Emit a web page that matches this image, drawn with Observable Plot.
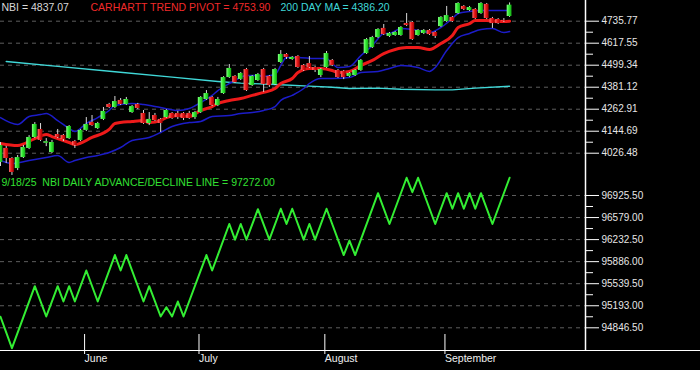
<!DOCTYPE html>
<html><head><meta charset="utf-8">
<script src="https://cdn.jsdelivr.net/npm/d3@7"></script>
<script src="https://cdn.jsdelivr.net/npm/@observablehq/plot@0.6"></script>
<style>
html,body{margin:0;padding:0;background:#000;}
#chart{position:relative;width:700px;height:370px;background:#000;overflow:hidden;}
#chart svg{position:absolute;left:0;overflow:visible;}
#baseline{position:absolute;left:0;top:350px;width:700px;height:1px;background:#fff;}
</style></head><body><div id="chart"><div id="baseline"></div></div>
<script>
// ---- NBI daily candles (trading days 0..89, May 12 – Sep 18, 2025)
const open  = [3977,4052,3998,3944,4003,4052,4111,4154,4080,4030,4127,4122,4105,4089,4095,4149,4192,4159,4208,4288,4272,4310,4288,4245,4288,4240,4186,4229,4208,4218,4240,4240,4240,4240,4218,4245,4315,4326,4283,4347,4433,4439,4423,4476,4390,4417,4476,4439,4396,4514,4557,4530,4546,4498,4508,4487,4444,4487,4525,4471,4466,4439,4444,4471,4562,4594,4648,4697,4654,4659,4659,4723,4729,4659,4670,4686,4675,4707,4734,4756,4777,4815,4793,4799,4777,4826,4750,4745,4740,4761];
const high  = [4084,4063,4003,4014,4068,4121,4191,4186,4105,4095,4154,4127,4175,4095,4154,4218,4229,4192,4272,4294,4331,4320,4326,4283,4294,4256,4245,4240,4213,4261,4245,4251,4245,4251,4251,4331,4363,4331,4326,4438,4503,4444,4460,4482,4444,4455,4482,4444,4482,4578,4562,4546,4551,4503,4546,4492,4482,4573,4530,4476,4471,4460,4476,4530,4643,4654,4696,4718,4675,4680,4707,4777,4734,4691,4691,4691,4680,4761,4815,4761,4836,4820,4815,4804,4836,4831,4756,4750,4750,4834];
const low   = [3955,3971,3907,3933,3998,4046,4105,4089,4062,4025,4105,4089,4100,4052,4089,4143,4170,4154,4202,4266,4267,4283,4283,4240,4261,4181,4175,4197,4138,4213,4208,4208,4202,4208,4208,4240,4310,4277,4277,4342,4428,4401,4417,4358,4385,4412,4353,4380,4390,4508,4530,4525,4482,4466,4482,4460,4433,4482,4492,4428,4422,4433,4439,4466,4557,4589,4643,4659,4648,4654,4654,4707,4632,4654,4664,4659,4643,4702,4729,4729,4772,4793,4788,4745,4772,4745,4697,4718,4729,4756];
const close = [4068,3998,3923,4003,4057,4111,4181,4095,4088,4084,4111,4100,4170,4068,4149,4181,4175,4186,4251,4272,4304,4288,4315,4277,4267,4186,4208,4202,4186,4256,4213,4218,4213,4213,4245,4326,4347,4283,4315,4433,4482,4406,4455,4363,4439,4449,4396,4390,4476,4557,4541,4541,4487,4471,4487,4471,4476,4562,4498,4433,4433,4455,4471,4525,4637,4648,4691,4664,4670,4675,4702,4713,4637,4686,4686,4664,4654,4756,4766,4734,4831,4799,4809,4750,4831,4750,4723,4723,4736,4822];

// ---- Carhartt trend pivot
const pivotDay   = [0,3,6,8,9,12,13,16,19,20,23,25,26,28,29,31,33,35,37,38,40,42,44,46,48,49,51,52,54,56,58,59,61,63,65,67,69,71,73,75,77,79,80,82,83,85,87,89];
const pivotValue = [4079,4068,4105,4127,4116,4084,4073,4111,4154,4186,4197,4202,4191,4202,4218,4229,4224,4256,4277,4294,4310,4320,4337,4353,4374,4401,4428,4460,4482,4482,4471,4460,4466,4498,4525,4562,4584,4594,4594,4584,4616,4659,4702,4723,4739,4739,4734,4736];

// ---- upper / lower band
const upperDay   = [0,3,5,7,8,10,12,13,15,17,19,20,23,25,28,31,33,35,37,38,40,41,43,45,46,48,49,50,52,55,57,58,59,61,63,65,66,67,68,70,72,73,75,77,79,80,82,84,87,89];
const upperValue = [4218,4181,4224,4234,4240,4202,4159,4143,4186,4218,4256,4283,4294,4288,4272,4256,4267,4299,4337,4363,4401,4417,4444,4444,4439,4449,4498,4541,4541,4535,4535,4508,4487,4492,4551,4605,4642,4670,4670,4697,4691,4686,4675,4702,4750,4777,4788,4793,4793,4793];
const lowerDay   = [0,2,5,8,10,12,13,15,17,19,21,23,26,28,30,33,35,37,40,42,44,46,48,49,51,53,54,56,58,61,63,66,68,70,73,75,76,78,80,82,84,86,88,89];
const lowerValue = [3987,3971,3987,4003,4014,3977,3987,4003,4014,4030,4057,4095,4111,4138,4170,4191,4197,4224,4229,4240,4245,4256,4277,4310,4337,4374,4401,4428,4428,4433,4460,4466,4482,4498,4487,4466,4487,4578,4648,4670,4691,4696,4675,4680];

// ---- 200 day moving average
const maDay   = [1,10,20,30,38,42,48,54,58,61,66,70,76,79,83,89];
const maValue = [4519,4493,4464,4435,4412,4403,4396,4387,4381,4374,4376,4370,4367,4367,4376,4386];

// ---- NBI daily advance/decline line (turning points)
const adDay   = [0,2,6,8,10,11,12,13,15,17,20,21,22,25,26,28,29,30,31,32,36,37,40,41,42,43,45,47,49,50,51,53,54,55,57,60,61,62,66,68,71,72,73,76,78,79,80,81,82,83,84,86,89];
const adValue = [95020,94526,95500,95024,95500,95260,95500,95260,95747,95260,95990,95747,95990,95260,95500,95024,95170,95024,95260,95024,95990,95747,96478,96231,96478,96231,96710,96231,96717,96478,96717,96231,96478,96231,96717,95990,96218,95990,96962,96478,97204,96977,97204,96478,96962,96717,96962,96717,96962,96717,96962,96478,97204];

// ---- axes
const monthDay  = [14,34,56,77];
const monthName = ["June","July","August","September"];
const priceTicks = [4026.48,4144.69,4262.91,4381.12,4499.34,4617.55,4735.77];
const adTicks    = [94846.50,95193.00,95539.50,95886.00,96232.50,96579.00,96925.50];
const topTitles  = ["NBI = 4837.07","CARHARTT TREND PIVOT = 4753.90","200 DAY MA = 4386.20"];
const adTitle    = "9/18/25  NBI DAILY ADVANCE/DECLINE LINE = 97272.00";

// ---------------------------------------------------------------
const FONT = '"Liberation Sans", Arial, sans-serif';
const xDomain = [0, 102.27];
const pairs = (d, v) => d.map((day, i) => ({day, value: v[i]}));
const candles = open.map((o, i) => ({day: i, open: o, high: high[i], low: low[i], close: close[i]}));
const mid = t => d3.pairs(t).map(([a, b]) => (a + b) / 2);
const style = {background: "transparent", color: "#ffffff", fontFamily: FONT, overflow: "visible"};
const HW = 0.42;

const topPlot = Plot.plot({
  width: 700, height: 172,
  marginLeft: 0, marginRight: 115, marginTop: 0, marginBottom: 0,
  style,
  x: {domain: xDomain, axis: null},
  y: {domain: [3922.8, 4847], axis: null},
  marks: [
    Plot.gridY(priceTicks, {stroke: "#5e5e5e", strokeOpacity: 1, strokeDasharray: "4,4"}),
    Plot.axisY(mid(priceTicks), {anchor: "right", label: null, tickSize: 7, tickFormat: () => "", stroke: "#fff"}),
    Plot.axisY(priceTicks, {anchor: "right", label: null, tickSize: 13, tickPadding: 3, tickFormat: d => d.toFixed(2), fontSize: 10, fill: "#e6e6e6", stroke: "#fff"}),
    Plot.ruleX([xDomain[1]], {stroke: "#fff", strokeWidth: 1.5}),
    Plot.line(pairs(maDay, maValue), {x: "day", y: "value", stroke: "#40d8d8", strokeWidth: 1.4}),
    Plot.line(pairs(upperDay, upperValue), {x: "day", y: "value", stroke: "#1c1cc8", strokeWidth: 1.5, curve: "monotone-x"}),
    Plot.line(pairs(lowerDay, lowerValue), {x: "day", y: "value", stroke: "#1c1cc8", strokeWidth: 1.5, curve: "monotone-x"}),
    Plot.line(pairs(pivotDay, pivotValue), {x: "day", y: "value", stroke: "#ee1a1a", strokeWidth: 3, curve: "monotone-x"}),
    Plot.ruleX(candles, {x: "day", y1: "low", y2: "high", stroke: "#d8d8d8", strokeWidth: 1}),
    Plot.rect(candles.filter(d => d.close >= d.open), {x1: d => d.day - HW, x2: d => d.day + HW, y1: "open", y2: "close", fill: "url(#gUp)"}),
    Plot.rect(candles.filter(d => d.close < d.open), {x1: d => d.day - HW, x2: d => d.day + HW, y1: "open", y2: "close", fill: "url(#gDown)"}),
    Plot.text([topTitles[0]], {frameAnchor: "top-left", dx: 1, dy: 7, lineAnchor: "middle", textAnchor: "start", fill: "#d8d8d8", fontSize: 10.5}),
    Plot.text([topTitles[1]], {frameAnchor: "top-left", dx: 90, dy: 7, lineAnchor: "middle", textAnchor: "start", fill: "#f02a2a", fontSize: 10.5}),
    Plot.text([topTitles[2]], {frameAnchor: "top-left", dx: 280, dy: 7, lineAnchor: "middle", textAnchor: "start", fill: "#3fd8d8", fontSize: 10.5})
  ]
});

const botPlot = Plot.plot({
  width: 700, height: 198,
  marginLeft: 0, marginRight: 115, marginTop: 0, marginBottom: 20,
  style,
  x: {domain: xDomain, axis: null},
  y: {domain: [94489.8, 97286.9], axis: null},
  marks: [
    Plot.gridY(adTicks, {stroke: "#5e5e5e", strokeOpacity: 1, strokeDasharray: "4,4"}),
    Plot.axisY(mid(adTicks), {anchor: "right", label: null, tickSize: 7, tickFormat: () => "", stroke: "#fff"}),
    Plot.axisY(adTicks, {anchor: "right", label: null, tickSize: 13, tickPadding: 3, tickFormat: d => d.toFixed(2), fontSize: 10, fill: "#e6e6e6", stroke: "#fff"}),
    Plot.ruleX([xDomain[1]], {stroke: "#fff", strokeWidth: 1.5}),
    Plot.axisX(monthDay, {anchor: "bottom", label: null, tickSize: 20, tickPadding: 0, tickFormat: d => monthName[monthDay.indexOf(d)], textAnchor: "start", dx: 4, dy: -16, fontSize: 10.5, fill: "#f0f0f0", stroke: "#fff"}),
    Plot.line(pairs(adDay, adValue), {x: "day", y: "value", stroke: "#33ee33", strokeWidth: 2}),
    Plot.text([adTitle], {frameAnchor: "top-left", dx: 1, dy: 10, lineAnchor: "middle", textAnchor: "start", fill: "#33e033", fontSize: 10.5})
  ]
});

function addGradients(svg) {
  const defs = d3.select(svg).insert("defs", ":first-child");
  const g1 = defs.append("linearGradient").attr("id", "gUp").attr("x1", 0).attr("x2", 1).attr("y1", 0).attr("y2", 0);
  g1.append("stop").attr("offset", "0%").attr("stop-color", "#8cff8c");
  g1.append("stop").attr("offset", "45%").attr("stop-color", "#30ec30");
  g1.append("stop").attr("offset", "100%").attr("stop-color", "#16a816");
  const g2 = defs.append("linearGradient").attr("id", "gDown").attr("x1", 0).attr("x2", 1).attr("y1", 0).attr("y2", 0);
  g2.append("stop").attr("offset", "0%").attr("stop-color", "#ff7070");
  g2.append("stop").attr("offset", "45%").attr("stop-color", "#ea1a1a");
  g2.append("stop").attr("offset", "100%").attr("stop-color", "#a00000");
}
addGradients(topPlot);

const chart = document.getElementById("chart");
topPlot.style.top = "0px";
botPlot.style.top = "172px";
chart.appendChild(botPlot);
chart.appendChild(topPlot);
</script></body></html>
